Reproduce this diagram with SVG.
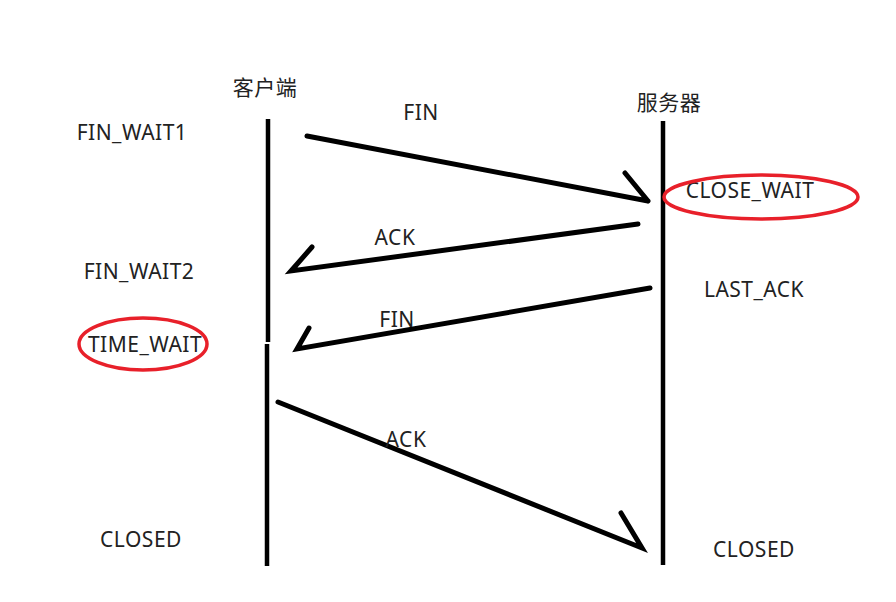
<svg xmlns="http://www.w3.org/2000/svg" width="896" height="602" viewBox="0 0 896 602">
<style>
text{font-family:"Noto Sans","Open Sans","Noto Sans CJK SC",sans-serif;font-size:21px;letter-spacing:0.5px;fill:#222;text-anchor:middle;dominant-baseline:central}
.ln{stroke:#000;stroke-width:5;stroke-linecap:round;fill:none}
.life{stroke:#000;stroke-width:4.5;fill:none}
.hl{stroke:#e8202a;stroke-width:3.5;fill:none}
</style>
<rect width="896" height="602" fill="#fff"/>
<g id="client">
<line class="life" x1="268" y1="119" x2="268" y2="342"/>
<line class="life" x1="267" y1="344" x2="267" y2="566"/>
<text x="265" y="87">客户端</text>
</g>
<g id="server">
<line class="life" x1="663" y1="121" x2="663" y2="565"/>
<text x="669" y="102">服务器</text>
</g>
<g id="states-client">
<text x="132" y="132">FIN_WAIT1</text>
<text x="139" y="271">FIN_WAIT2</text>
<text x="145" y="344">TIME_WAIT</text>
<text x="141" y="539">CLOSED</text>
</g>
<g id="states-server">
<text x="750" y="190">CLOSE_WAIT</text>
<text x="754" y="289">LAST_ACK</text>
<text x="754" y="549">CLOSED</text>
</g>
<g id="highlights">
<ellipse class="hl" cx="761" cy="197" rx="97" ry="22"/>
<ellipse class="hl" cx="143" cy="344" rx="64" ry="26"/>
</g>
<g id="connectors">
<path class="ln" d="M307 136 L648 201 M625 173 L648 201"/>
<path class="ln" d="M638 224 L291 271 L312 247"/>
<path class="ln" d="M650 288 L297 349 L309 328"/>
<path class="ln" d="M278 402 L642 548 L621 513"/>
<text x="421" y="112">FIN</text>
<text x="395" y="237">ACK</text>
<text x="397" y="319">FIN</text>
<text x="406" y="439">ACK</text>
</g>
</svg>
